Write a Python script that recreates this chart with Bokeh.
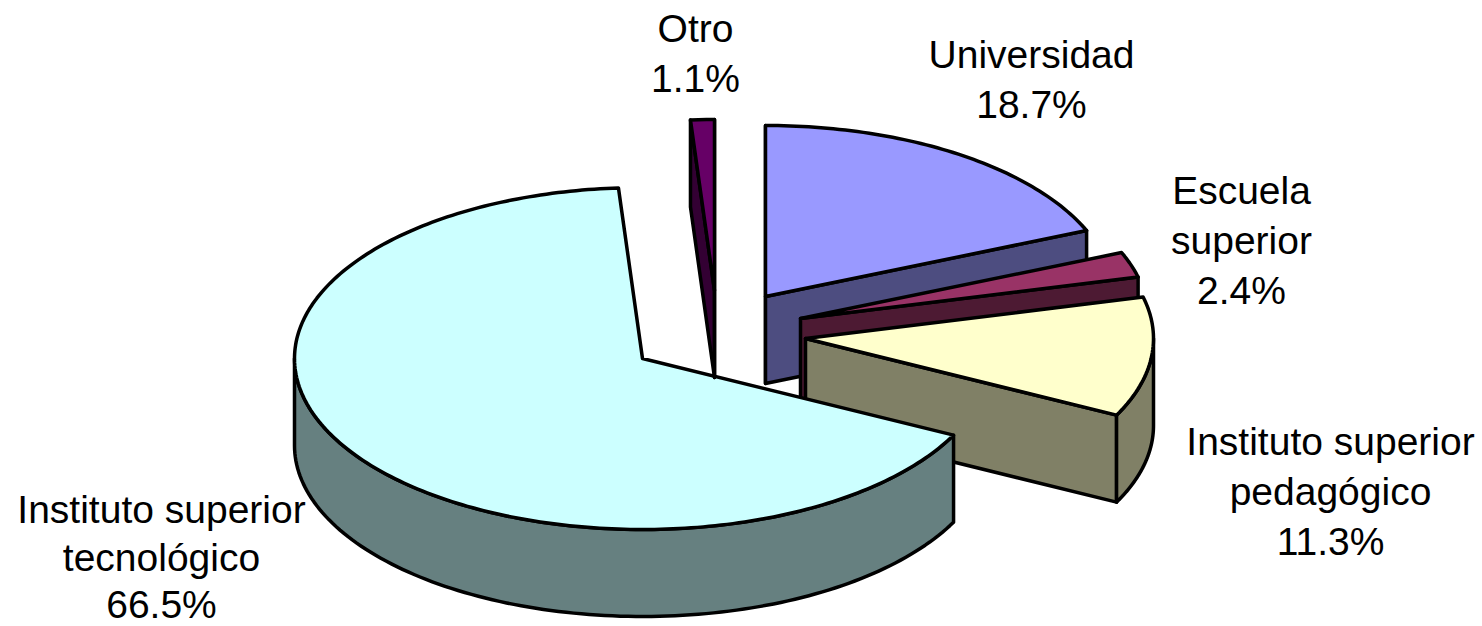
import numpy as np
from bokeh.plotting import figure
from bokeh.models import Range1d
from bokeh.core.properties import value
from bokeh.embed import file_html
from bokeh.resources import INLINE

# Data, in drawing order clockwise from the top of the pie
categories = ["Universidad", "Escuela superior", "Instituto superior pedagógico",
              "Instituto superior tecnológico", "Otro"]
shares = [18.7, 2.4, 11.3, 66.5, 1.1]
label_lines = [["Universidad"], ["Escuela", "superior"], ["Instituto superior", "pedagógico"],
               ["Instituto superior", "tecnológico"], ["Otro"]]

# Styles and layout
top_colors = ["#9999FF", "#993366", "#FFFFCC", "#CCFFFF", "#660066"]
side_colors = ["#4D4D80", "#4D1A33", "#808066", "#668080", "#330033"]
centers = [(765, 296), (800, 318), (805, 338), (642, 358), (714, 290)]
label_pos = [(1031, 54), (1241, 190), (1330, 441), (161, 509), (695, 28)]
line_steps = [49.8, 49.8, 49.8, 47.5, 49.8]
RX, RY, DEPTH = 348, 171, 87
LW = 3.5
FONT = "Liberation Sans"
FS = "39px"

p = figure(width=1482, height=626, output_backend="svg", toolbar_location=None,
           x_range=Range1d(0, 1482), y_range=Range1d(626, 0),
           min_border=0, outline_line_color=None)
p.axis.visible = False
p.xgrid.visible = False
p.ygrid.visible = False
p.background_fill_color = "white"
p.border_fill_color = "white"


def pt(c, a, d=0):
    return c[0] + RX * np.sin(a), c[1] - RY * np.cos(a) + d


def poly(xy, color):
    xs, ys = zip(*xy)
    p.patch(list(xs), list(ys), fill_color=color, line_color="black",
            line_width=LW, line_join="round")


edges = np.cumsum([0] + shares) / sum(shares) * 2 * np.pi
for i in range(len(shares)):
    c = centers[i]
    below = (c[0], c[1] + DEPTH)
    a0, a1 = edges[i], edges[i + 1]
    arc = np.linspace(a0, a1, max(4, int(np.degrees(a1 - a0))))
    # cut faces turned towards the viewer (or seen edge-on at the top of the pie)
    if np.sin(a0) <= 1e-9 and a0 > np.pi or a0 == 0:
        poly([c, pt(c, a0), pt(c, a0, DEPTH), below], side_colors[i])
    if np.sin(a1) >= -1e-9 and a1 < np.pi or a1 >= 2 * np.pi - 1e-6:
        poly([c, pt(c, a1), pt(c, a1, DEPTH), below], side_colors[i])
    # rim: the part of the arc that faces the viewer
    lo, hi = max(a0, np.pi / 2), min(a1, 3 * np.pi / 2)
    if lo < hi:
        rim = np.linspace(lo, hi, 120)
        poly([pt(c, a) for a in rim] + [pt(c, a, DEPTH) for a in rim[::-1]], side_colors[i])
    poly([c] + [pt(c, a) for a in arc], top_colors[i])

for i, lines in enumerate(label_lines):
    all_lines = lines + [f"{shares[i]}%"]
    x, y = label_pos[i]
    p.text(x=[x] * len(all_lines), y=[y + line_steps[i] * k for k in range(len(all_lines))],
           text=all_lines, text_font=value(FONT), text_font_size=value(FS),
           text_align="center", text_baseline="middle", text_color="black")

open("out.html", "w").write(file_html(p, INLINE))
